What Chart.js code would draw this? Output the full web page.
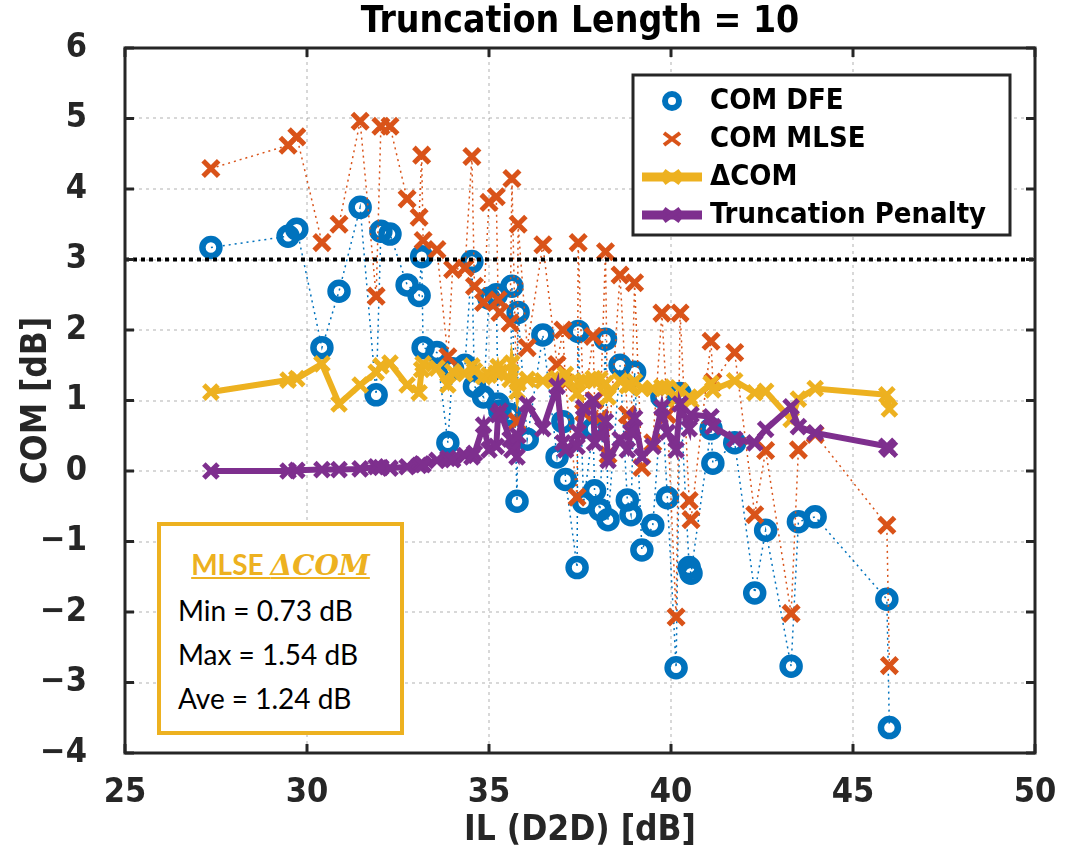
<!DOCTYPE html>
<html>
<head>
<meta charset="utf-8">
<script src="https://cdn.jsdelivr.net/npm/chart.js@4.4.1/dist/chart.umd.min.js"></script>
<style>
  body { margin: 0; background: #fff; }
  #wrap { position: relative; width: 1084px; height: 852px; }
  #stats {
    position: absolute; left: 157px; top: 522px; width: 247px; height: 213px;
    box-sizing: border-box; border: 4px solid #EDB120; background: #fff;
    font-family: Lato, 'Open Sans', sans-serif; font-size: 28px; color: #000;
    padding: 16px 0 0 17px; line-height: 44px;
  }
  #stats .head { text-align: center; margin-left: -17px; color: #EDB120; font-weight: bold; text-decoration: underline; }
  #stats .head i { font-family: 'DejaVu Serif', serif; font-weight: bold; }
</style>
</head>
<body>
<div id="wrap">
  <canvas id="grafico"></canvas>
  <div id="stats">
    <div class="head">MLSE <i>ΔCOM</i></div>
    <div>Min = 0.73 dB</div>
    <div>Max = 1.54 dB</div>
    <div>Ave = 1.24 dB</div>
  </div>
</div>
<script>
// IL of each channel and the values
const ilValues = [27.36, 29.48, 29.72, 30.41, 30.88, 31.46, 31.90, 32.03, 32.28, 32.75, 33.08, 33.15, 33.19, 33.57, 33.87, 34.00,
  34.34, 34.53, 34.60, 34.85, 35.00, 35.20, 35.25, 35.30, 35.58, 35.63, 35.77, 35.80, 36.05, 36.48, 36.87, 37.03, 37.10,
  37.42, 37.45, 37.60, 37.86, 37.90, 38.05, 38.20, 38.27, 38.60, 38.80, 38.90, 39.00, 39.20, 39.50, 39.75, 39.90, 40.14,
  40.25, 40.50, 40.55, 41.10, 41.15, 41.75, 42.30, 42.60, 43.30, 43.50, 43.96, 45.93, 46.00];
const comDfe = [3.17, 3.33, 3.43, 1.75, 2.55, 3.74, 1.08, 3.40, 3.36, 2.64, 2.49, 3.04, 1.75, 1.68, 0.40, 1.45,
  1.50, 2.97, 1.20, 1.05, 2.45, 2.50, 0.95, 0.85, 0.80, 2.62, -0.43, 2.25, 0.45, 1.93, 0.20, 0.70, -0.12,
  -1.37, 1.98, -0.45, 0.60, -0.28, -0.55, 1.87, -0.69, 1.50, -0.41, -0.62, 1.40, -1.12, -0.77, 1.05, -0.38, -2.79,
  1.10, -1.37, -1.45, 0.60, 0.11, 0.40, -1.73, -0.84, -2.77, -0.72, -0.65, -1.82, -3.64];
const comMlse = [4.29, 4.62, 4.74, 3.24, 3.50, 4.96, 2.48, 4.89, 4.89, 3.86, 3.60, 4.48, 3.27, 3.14, 1.62, 2.86,
  2.88, 4.46, 2.62, 2.39, 3.81, 3.89, 2.43, 2.25, 2.10, 4.15, 0.70, 3.50, 1.75, 3.21, 1.51, 2.00, 1.25,
  -0.37, 3.24, 0.83, 1.91, 1.00, 0.75, 3.11, 0.23, 2.78, 0.80, 0.60, 2.67, 0.05, 0.40, 2.24, 0.80, -2.07,
  2.24, -0.42, -0.69, 1.84, 1.26, 1.68, -0.62, 0.29, -2.02, 0.30, 0.52, -0.77, -2.76];
const deltaCom = [1.12, 1.29, 1.31, 1.52, 0.95, 1.22, 1.40, 1.49, 1.53, 1.22, 1.11, 1.44, 1.52, 1.46, 1.22, 1.41,
  1.38, 1.49, 1.42, 1.34, 1.36, 1.39, 1.48, 1.40, 1.30, 1.53, 1.13, 1.25, 1.30, 1.28, 1.31, 1.30, 1.37,
  1.10, 1.26, 1.28, 1.31, 1.28, 1.30, 1.24, 1.05, 1.28, 1.21, 1.22, 1.27, 1.17, 1.17, 1.19, 1.18, 1.02,
  1.14, 1.05, 1.00, 1.24, 1.15, 1.28, 1.11, 1.13, 0.73, 1.02, 1.17, 1.08, 0.88];
const truncPenalty = [0.00, 0.00, 0.01, 0.02, 0.02, 0.03, 0.06, 0.05, 0.04, 0.06, 0.08, 0.10, 0.09, 0.15, 0.18, 0.16,
  0.22, 0.20, 0.25, 0.65, 0.30, 0.35, 0.80, 0.85, 0.45, 0.30, 0.20, 0.50, 0.95, 0.60, 1.20, 0.40, 0.30,
  0.35, 0.55, 0.90, 1.00, 0.40, 0.50, 0.70, 0.15, 0.45, 0.30, 0.55, 0.75, 0.20, 0.35, 0.90, 0.55, 0.30,
  0.95, 0.60, 0.80, 0.77, 0.63, 0.45, 0.40, 0.59, 0.91, 0.63, 0.54, 0.35, 0.31];
const xTicks = [25, 30, 35, 40, 45, 50];
const yTicks = [-4, -3, -2, -1, 0, 1, 2, 3, 4, 5, 6];
const yTickLabels = ['\u22124', '\u22123', '\u22122', '\u22121', '0', '1', '2', '3', '4', '5', '6'];
const comTarget = 3;
const chartTitle = 'Truncation Length = 10';
const legendLabels = ['COM DFE', 'COM MLSE', '\u0394COM', 'Truncation Penalty'];

const azul = '#0072BD';
const laranja = '#D95319';
const amarelo = '#EDB120';
const roxo = '#7E2F8E';
const fonte = "'DejaVu Sans Condensed', 'Liberation Sans Narrow', 'DejaVu Sans', sans-serif";

function pontos(valores) {
  return ilValues.map((x, i) => ({ x: x, y: valores[i] }));
}

function linha(ctx, x1, y1, x2, y2) {
  ctx.beginPath();
  ctx.moveTo(x1, y1);
  ctx.lineTo(x2, y2);
  ctx.stroke();
}

function marcaX(ctx, cx, cy, r) {
  linha(ctx, cx - r, cy - r * 0.75, cx + r, cy + r * 0.75);
  linha(ctx, cx - r, cy + r * 0.75, cx + r, cy - r * 0.75);
}

const moldura = {
  id: 'moldura',
  afterDatasetsDraw(chart) {
    const ctx = chart.ctx;
    const a = chart.chartArea;
    const x = chart.scales.x;
    const y = chart.scales.y;
    ctx.save();

    // titulo centrado na area do grafico
    ctx.fillStyle = '#000';
    ctx.font = 'bold 37px ' + fonte;
    ctx.textAlign = 'center';
    ctx.textBaseline = 'middle';
    ctx.fillText(chartTitle, (a.left + a.right) / 2, 22);

    // limite de 3 dB
    const ty = y.getPixelForValue(comTarget);
    ctx.strokeStyle = '#000';
    ctx.lineWidth = 4;
    ctx.setLineDash([4, 4]);
    linha(ctx, a.left, ty, a.right, ty);
    ctx.setLineDash([]);

    // caixa e ticks para dentro
    ctx.strokeStyle = '#262626';
    ctx.lineWidth = 3;
    ctx.strokeRect(a.left, a.top, a.width, a.height);
    xTicks.forEach(v => {
      const px = x.getPixelForValue(v);
      linha(ctx, px, a.bottom, px, a.bottom - 9);
      linha(ctx, px, a.top, px, a.top + 9);
    });
    yTicks.forEach(v => {
      const py = y.getPixelForValue(v);
      linha(ctx, a.left, py, a.left + 9, py);
      linha(ctx, a.right, py, a.right - 9, py);
    });

    // legenda
    const lx = a.right - 402;
    const ly = a.top + 27;
    ctx.fillStyle = '#fff';
    ctx.fillRect(lx, ly, 377, 160);
    ctx.strokeStyle = '#262626';
    ctx.lineWidth = 3;
    ctx.strokeRect(lx, ly, 377, 160);
    const mx = lx + 39;
    const rows = [ly + 26, ly + 64, ly + 102, ly + 140];

    ctx.strokeStyle = azul;
    ctx.lineWidth = 6;
    ctx.beginPath();
    ctx.arc(mx, rows[0], 7, 0, Math.PI * 2);
    ctx.stroke();

    ctx.strokeStyle = laranja;
    ctx.lineWidth = 4;
    marcaX(ctx, mx, rows[1], 8);

    [[amarelo, rows[2]], [roxo, rows[3]]].forEach(([cor, ry]) => {
      ctx.strokeStyle = cor;
      ctx.lineWidth = 9;
      linha(ctx, lx + 9, ry, lx + 69, ry);
      ctx.lineWidth = 5;
      marcaX(ctx, mx, ry, 8);
    });

    ctx.fillStyle = '#000';
    ctx.font = 'bold 29px ' + fonte;
    ctx.textBaseline = 'middle';
    ctx.textAlign = 'left';
    legendLabels.forEach((t, i) => ctx.fillText(t, lx + 77, rows[i]));
    ctx.restore();
  }
};

const grafico = document.getElementById('grafico');

new Chart(grafico, {
  type: 'scatter',
  data: {
    datasets: [{
      label: legendLabels[0],
      data: pontos(comDfe),
      showLine: true,
      borderColor: azul,
      backgroundColor: 'rgba(0,0,0,0)',
      borderWidth: 1.5,
      borderDash: [2, 4],
      pointStyle: 'circle',
      pointRadius: 8.5,
      pointBorderWidth: 6.5,
      order: 4
    }, {
      label: legendLabels[1],
      data: pontos(comMlse),
      showLine: true,
      borderColor: laranja,
      backgroundColor: laranja,
      borderWidth: 1.5,
      borderDash: [2, 4],
      pointStyle: 'crossRot',
      pointRadius: 11,
      pointBorderWidth: 5,
      order: 3
    }, {
      label: legendLabels[2],
      data: pontos(deltaCom),
      showLine: true,
      borderColor: amarelo,
      backgroundColor: amarelo,
      borderWidth: 6,
      pointStyle: 'crossRot',
      pointRadius: 10,
      pointBorderWidth: 5,
      order: 2
    }, {
      label: legendLabels[3],
      data: pontos(truncPenalty),
      showLine: true,
      borderColor: roxo,
      backgroundColor: roxo,
      borderWidth: 6,
      pointStyle: 'crossRot',
      pointRadius: 10,
      pointBorderWidth: 5,
      order: 1
    }]
  },
  options: {
    responsive: true,
    maintainAspectRatio: false,
    animation: false,
    layout: { padding: { left: 0, right: 49, top: 48, bottom: 0 } },
    plugins: {
      legend: { display: false },
      tooltip: { enabled: false },
      title: { display: false }
    },
    scales: {
      x: {
        type: 'linear',
        min: 25,
        max: 50,
        afterFit(scale) { scale.height = 99; },
        afterBuildTicks(scale) { scale.ticks = xTicks.map(v => ({ value: v })); },
        ticks: { color: '#262626', padding: 20, font: { family: fonte, size: 34, weight: 'bold' } },
        grid: { color: 'rgba(38,38,38,0.18)', lineWidth: 2, drawTicks: false },
        border: { display: false, dash: [3, 4] },
        title: {
          display: true,
          text: 'IL (D2D) [dB]',
          color: '#262626',
          font: { family: fonte, size: 35, weight: 'bold', lineHeight: 1.2 },
          padding: { top: 0, bottom: 0 }
        }
      },
      y: {
        min: -4,
        max: 6,
        afterFit(scale) {
          scale.width = 125;
          scale.paddingTop = 0;
          scale.paddingBottom = 0;
        },
        afterBuildTicks(scale) { scale.ticks = yTicks.map(v => ({ value: v })); },
        ticks: {
          color: '#262626',
          padding: 38,
          font: { family: fonte, size: 34, weight: 'bold' },
          callback: (v) => yTickLabels[yTicks.indexOf(v)]
        },
        grid: { color: 'rgba(38,38,38,0.18)', lineWidth: 2, drawTicks: false },
        border: { display: false, dash: [3, 4] },
        title: {
          display: true,
          text: 'COM [dB]',
          color: '#262626',
          font: { family: fonte, size: 35, weight: 'bold', lineHeight: 1.2 },
          padding: { top: 16, bottom: 0 }
        }
      }
    }
  },
  plugins: [moldura]
});
</script>
</body>
</html>
